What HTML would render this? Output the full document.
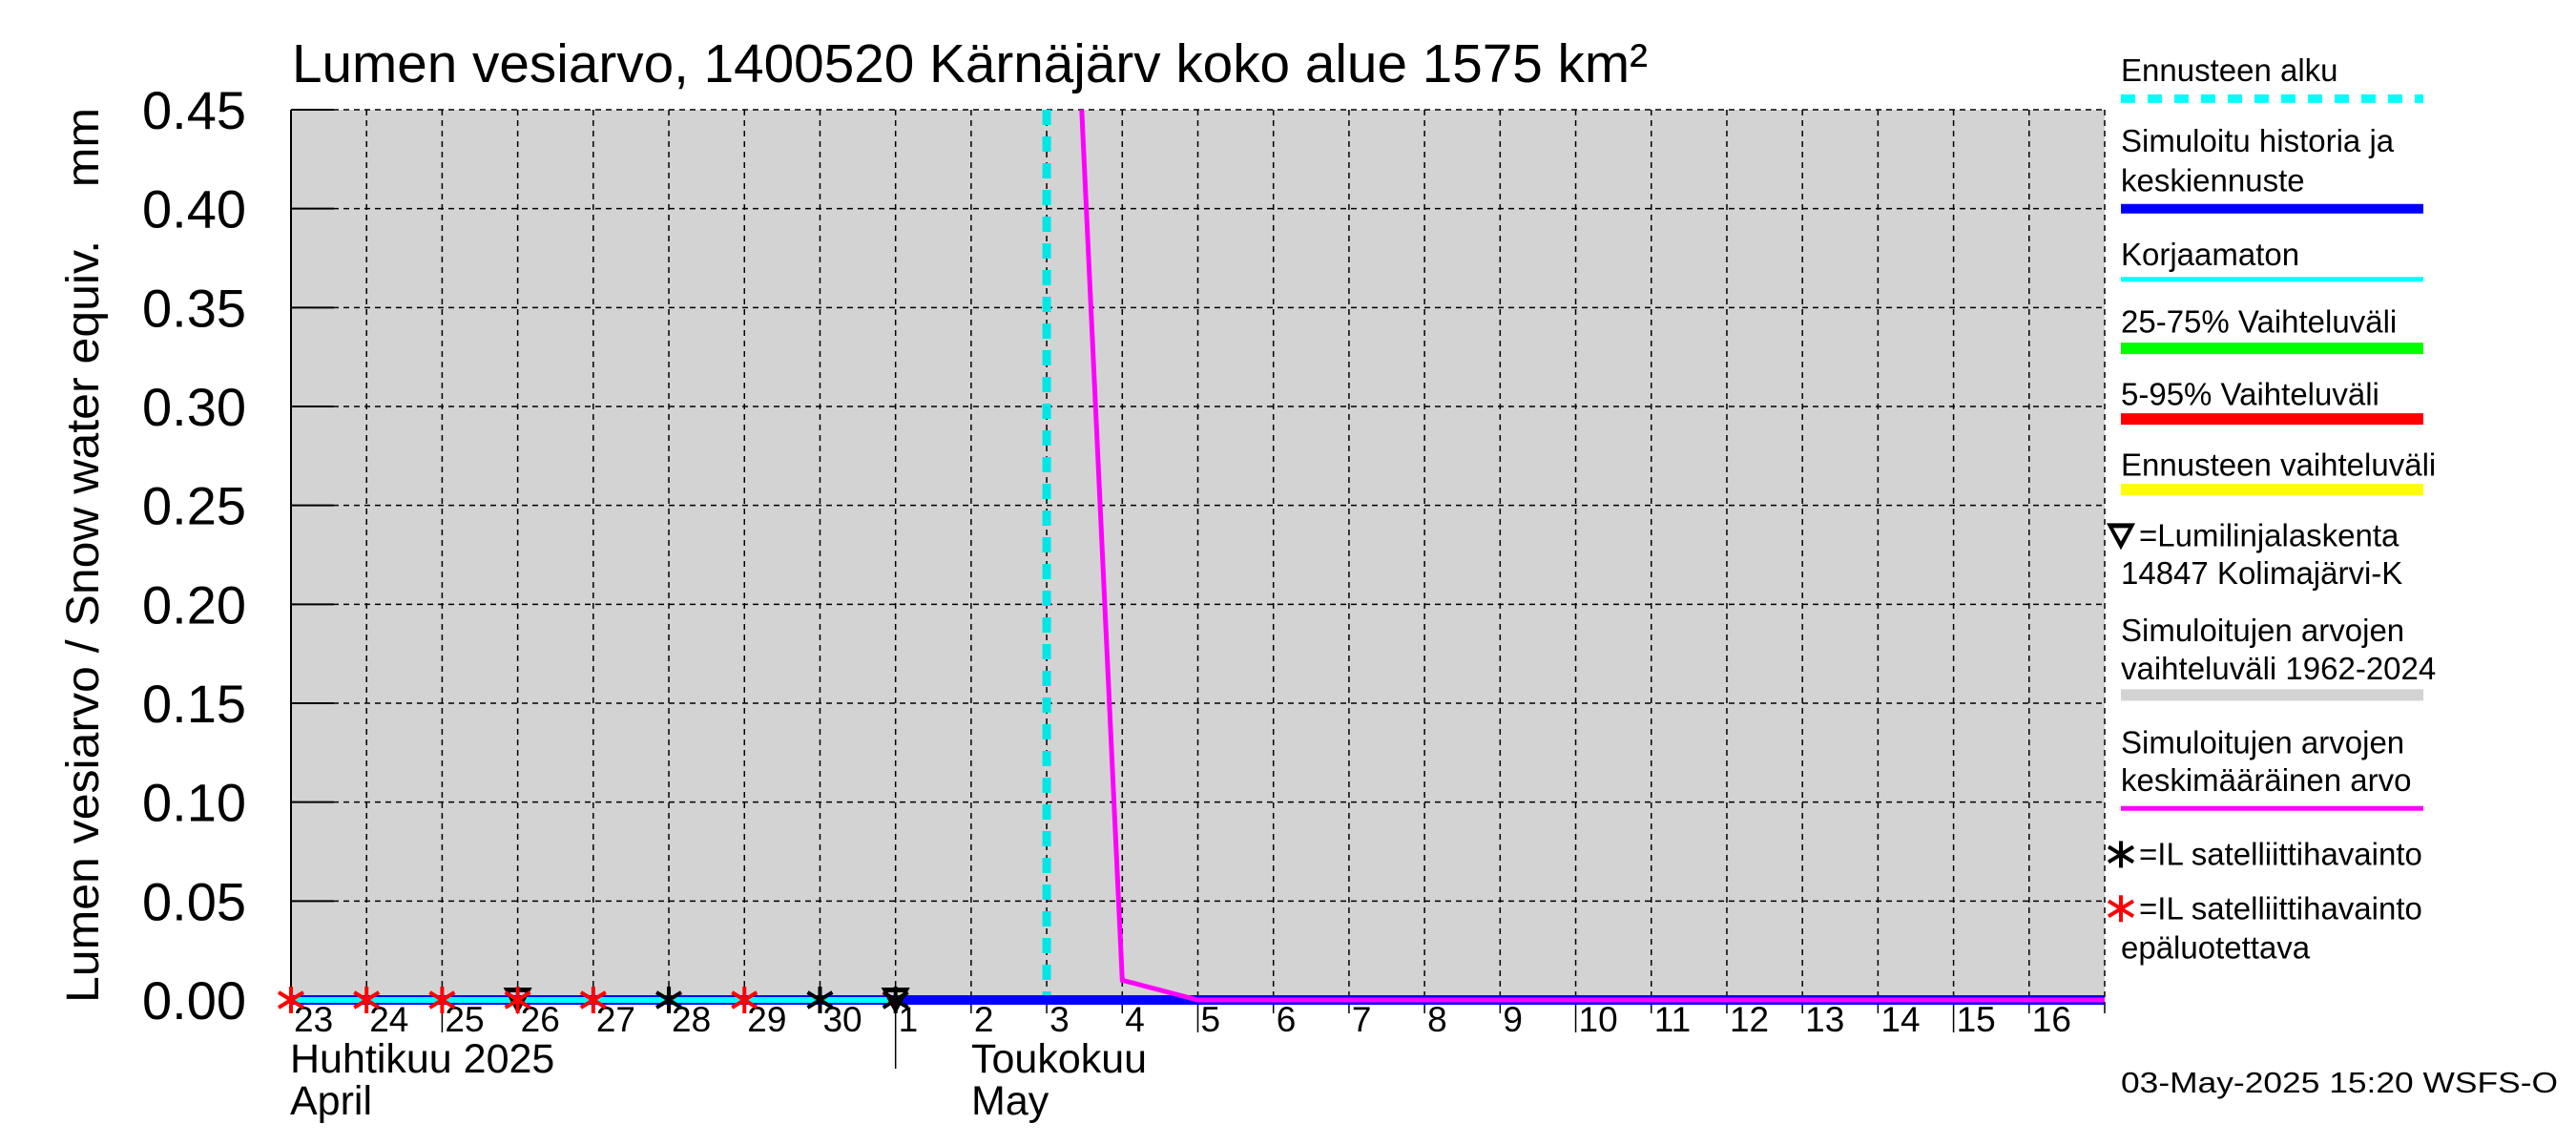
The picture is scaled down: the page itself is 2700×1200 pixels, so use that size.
<!DOCTYPE html>
<html><head><meta charset="utf-8"><style>
html,body{margin:0;padding:0;background:#fff;}
svg{display:block;font-family:"Liberation Sans",sans-serif;}
</style></head><body>
<svg id="chart" width="2700" height="1200" viewBox="0 0 2700 1200" xmlns="http://www.w3.org/2000/svg">
<rect x="0" y="0" width="2700" height="1200" fill="#fff"/>
<text x="306" y="86" font-size="57" textLength="1421" lengthAdjust="spacingAndGlyphs">Lumen vesiarvo, 1400520 Kärnäjärv koko alue 1575 km²</text>
<text transform="translate(103,582) rotate(-90)" text-anchor="middle" font-size="48" textLength="938" lengthAdjust="spacingAndGlyphs" xml:space="preserve">Lumen vesiarvo / Snow water equiv.    mm</text>
<g id="plot"></g>
<g id="legend"></g>
<text x="2223" y="1145" font-size="31" textLength="458" lengthAdjust="spacingAndGlyphs">03-May-2025 15:20 WSFS-O</text>
</svg>
<script>
const dayLabels=["23","24","25","26","27","28","29","30","1","2","3","4","5","6","7","8","9","10","11","12","13","14","15","16"];
const yTicks=[0,0.05,0.10,0.15,0.20,0.25,0.30,0.35,0.40,0.45];
const yTickLabels=["0.00","0.05","0.10","0.15","0.20","0.25","0.30","0.35","0.40","0.45"];
const meanValues=[5,5,5,5,5,5,5,5,3,2,0.83,0.01,0,0,0,0,0,0,0,0,0,0,0,0,0];
const simValues=[0,0,0,0,0,0,0,0,0,0,0,0,0,0,0,0,0,0,0,0,0,0,0,0,0];
const uncorrValues=[0,0,0,0,0,0,0,0,0];
const redSatDays=[0,1,2,3,4,6];
const blackSatDays=[5,7,8];
const triangleDays=[3,8];
const forecastStartDay=10;

const NS="http://www.w3.org/2000/svg";
const X0=305,X1=2206,DAYS=24,Y0=1048,YT=115,YMAX=0.45;
const xs=d=>X0+(X1-X0)*d/DAYS;
const ys=v=>Y0-(Y0-YT)*v/YMAX;
const plot=document.getElementById('plot');
function mk(tag,attrs,parent){const e=document.createElementNS(NS,tag);for(const k in attrs)e.setAttribute(k,attrs[k]);(parent||plot).appendChild(e);return e;}

let e=mk('rect',{x:X0,y:YT,width:X1-X0,height:1053-YT,fill:'#d3d3d3'});


for(let d=0;d<=DAYS;d++){
  e=mk('line',{x1:xs(d),x2:xs(d),y1:YT,y2:1053,stroke:'#000','stroke-width':1.5,'stroke-dasharray':'6,5'});
  
  
  const long=(dayLabels[d]==="25"||dayLabels[d]==="5"||dayLabels[d]==="10"||dayLabels[d]==="15");
  e=mk('line',{x1:xs(d),x2:xs(d),y1:1053,y2:dayLabels[d]==="1"?1120:(long?1082:1062),stroke:'#000','stroke-width':1.5});
  
  
  if(d<dayLabels.length){
    e=mk('text',{x:xs(d)+3,y:1081,'font-size':37});
    e.textContent=dayLabels[d];
    
    
  }
}
yTicks.forEach((v,i)=>{
  e=mk('line',{x1:X0,x2:X1,y1:ys(v),y2:ys(v),stroke:'#000','stroke-width':1.5,'stroke-dasharray':'6,5'});
  
  
  e=mk('line',{x1:X0,x2:X0+45,y1:ys(v),y2:ys(v),stroke:'#000','stroke-width':2});
  
  
  e=mk('text',{x:258,y:ys(v)+20,'font-size':56,'text-anchor':'end'});
  e.textContent=yTickLabels[i];
  
  
});
e=mk('line',{x1:X0,x2:X0,y1:YT,y2:1053,stroke:'#000','stroke-width':2});


[["Huhtikuu  2025",304,1124],["April",304,1168],["Toukokuu",1018,1124],["May",1018,1168]].forEach(t=>{
  e=mk('text',{x:t[1],y:t[2],'font-size':43});
  e.setAttribute('xml:space','preserve');
  e.textContent=t[0];
  
  
});
const defs=mk('defs',{});
const cp=mk('clipPath',{id:'clip'},defs);
mk('rect',{x:X0,y:YT,width:X1-X0,height:1060-YT},cp);
const g=mk('g',{'clip-path':'url(#clip)'});
function pts(arr,start){return arr.map((v,i)=>xs(i+(start||0))+','+ys(v)).join(' ');}
e=mk('polyline',{points:pts(simValues),fill:'none',stroke:'#0000ff','stroke-width':10},g);


e=mk('polyline',{points:pts(uncorrValues),fill:'none',stroke:'#00ffff','stroke-width':6},g);


e=mk('polyline',{points:pts(meanValues),fill:'none',stroke:'#ff00ff','stroke-width':5},g);


e=mk('line',{x1:xs(forecastStartDay),x2:xs(forecastStartDay),y1:YT,y2:1043,stroke:'#00e5e5','stroke-width':9,'stroke-dasharray':'16,12'});


function star(cx,cy,col,name,parent){
  const s=mk('g',{stroke:col,'stroke-width':4},parent);
  
  
  mk('line',{x1:cx,x2:cx,y1:cy-14,y2:cy+14},s);
  mk('line',{x1:cx-13,x2:cx+13,y1:cy-8,y2:cy+8},s);
  mk('line',{x1:cx-13,x2:cx+13,y1:cy+8,y2:cy-8},s);
}
function tri(cx,cy,parent,name){
  e=mk('path',{d:`M${cx-15},${cy-13} L${cx+15},${cy-13} L${cx},${cy+15} Z M${cx-8},${cy-8} L${cx+8},${cy-8} L${cx},${cy+6} Z`,fill:'#000','fill-rule':'evenodd'},parent);
  
  
}
triangleDays.forEach(d=>tri(xs(d),ys(0),plot,'snow-course-marker'));
redSatDays.forEach(d=>star(xs(d),ys(0),'#ff0000','unreliable-satellite-marker'));
blackSatDays.forEach(d=>star(xs(d),ys(0),'#000','satellite-marker'));

const L=document.getElementById('legend');
const lx=2223,lx2=2540,k=1.722;
function ltext(t,yd,x){const el=mk('text',{x:x||lx,y:yd*k+11,'font-size':33},L);el.textContent=t;}
function lline(yd,col,w,dash){const el=mk('line',{x1:lx,x2:lx2,y1:yd*k,y2:yd*k,stroke:col,'stroke-width':w},L);if(dash)el.setAttribute('stroke-dasharray',dash);}
ltext("Ennusteen alku",43);lline(60,'#00ffff',9,'15,13');
ltext("Simuloitu historia ja",86);ltext("keskiennuste",110);lline(127,'#0000ff',10);
ltext("Korjaamaton",155);lline(170,'#00ffff',5);
ltext("25-75% Vaihteluväli",196);lline(212,'#00ff00',12);
ltext("5-95% Vaihteluväli",240);lline(255,'#ff0000',12);
ltext("Ennusteen vaihteluväli",283);lline(298,'#ffff00',12);
tri(2223,326*k,L,'legend-triangle');ltext("=Lumilinjalaskenta",326,2242);ltext("14847 Kolimajärvi-K",349);
ltext("Simuloitujen arvojen",384);ltext("vaihteluväli 1962-2024",407);lline(423,'#d3d3d3',12);
ltext("Simuloitujen arvojen",452);ltext("keskimääräinen arvo",475);lline(492,'#ff00ff',5);
star(2223,520*k,'#000','legend-star-black',L);ltext("=IL satelliittihavainto",520,2242);
star(2223,553*k,'#ff0000','legend-star-red',L);ltext("=IL satelliittihavainto",553,2242);ltext("epäluotettava",577);
</script>
</body></html>
